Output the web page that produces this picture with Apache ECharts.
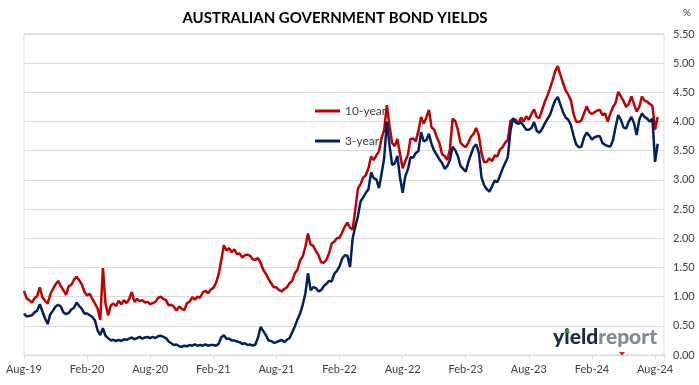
<!DOCTYPE html>
<html>
<head>
<meta charset="utf-8">
<script src="https://cdn.jsdelivr.net/npm/echarts@6/dist/echarts.min.js"></script>
<style>
html,body{margin:0;padding:0;background:#fff;}
#chart{width:699px;height:385px;}
</style>
</head>
<body>
<div id="chart"></div>
<script>
// Tick labels on the x axis (one every 6 months, starting Aug-2019)
const tickLabels = ['Aug-19','Feb-20','Aug-20','Feb-21','Aug-21','Feb-22','Aug-22','Feb-23','Aug-23','Feb-24','Aug-24'];
const seriesNames = ['10-year', '3-year'];

// Yields sampled every quarter-month from Aug-2019 (%)
const yield10 = [
 1.10,0.97,0.94,0.90,0.97,1.01,1.16,0.99,
 0.93,0.88,1.04,1.13,1.21,1.27,1.18,1.11,
 1.03,1.18,1.20,1.29,1.34,1.28,1.21,1.08,
 1.02,1.05,0.96,0.88,0.80,0.60,1.49,0.88,
 0.68,0.85,0.88,0.84,0.93,0.87,0.94,0.89,
 0.96,1.08,0.91,0.96,0.92,0.94,0.90,0.91,
 0.87,0.89,0.91,0.98,1.00,0.96,0.94,0.85,
 0.86,0.83,0.76,0.83,0.79,0.77,0.89,0.91,
 0.99,0.95,1.00,0.98,1.07,1.10,1.06,1.12,
 1.15,1.23,1.38,1.62,1.88,1.79,1.83,1.76,
 1.81,1.73,1.74,1.67,1.71,1.72,1.70,1.64,
 1.63,1.66,1.58,1.46,1.39,1.30,1.23,1.16,
 1.16,1.11,1.09,1.13,1.16,1.23,1.27,1.40,
 1.46,1.62,1.69,1.85,2.08,1.89,1.87,1.78,
 1.71,1.59,1.58,1.63,1.74,1.91,1.94,2.00,
 2.01,2.10,2.20,2.27,2.18,2.15,2.50,2.85,
 2.93,3.04,3.08,3.20,3.40,3.34,3.42,3.49,
 3.72,3.86,4.28,3.93,3.63,3.58,3.70,3.44,
 3.20,3.32,3.43,3.70,3.71,3.66,3.84,4.08,
 3.96,4.07,4.20,3.90,3.86,3.73,3.63,3.44,
 3.41,3.34,3.53,4.05,4.01,3.86,3.64,3.59,
 3.56,3.64,3.74,3.79,3.89,3.76,3.46,3.30,
 3.31,3.37,3.32,3.42,3.40,3.52,3.56,3.64,
 3.68,4.01,4.04,4.03,3.96,4.07,4.00,4.09,
 4.03,4.13,4.21,4.08,4.06,4.19,4.33,4.44,
 4.56,4.70,4.86,4.95,4.80,4.66,4.53,4.46,
 4.36,4.13,4.00,3.99,4.02,4.14,4.26,4.16,
 4.13,4.16,4.19,4.20,4.11,4.14,4.00,4.14,
 4.25,4.32,4.51,4.43,4.35,4.25,4.30,4.43,
 4.30,4.17,4.25,4.43,4.36,4.34,4.30,4.27,
 3.86,4.08
];
const yield3 = [
 0.71,0.66,0.67,0.68,0.73,0.76,0.87,0.75,
 0.63,0.53,0.70,0.76,0.83,0.86,0.83,0.73,
 0.70,0.72,0.78,0.81,0.90,0.84,0.79,0.71,
 0.71,0.68,0.65,0.59,0.42,0.34,0.46,0.33,
 0.29,0.25,0.26,0.24,0.26,0.24,0.27,0.26,
 0.28,0.30,0.27,0.29,0.31,0.28,0.30,0.31,
 0.29,0.31,0.29,0.32,0.33,0.31,0.29,0.23,
 0.20,0.17,0.18,0.15,0.14,0.16,0.15,0.17,
 0.16,0.18,0.16,0.17,0.16,0.18,0.16,0.17,
 0.17,0.16,0.19,0.30,0.34,0.28,0.28,0.25,
 0.25,0.23,0.22,0.19,0.20,0.17,0.18,0.16,
 0.18,0.30,0.48,0.41,0.34,0.25,0.24,0.21,
 0.22,0.24,0.26,0.22,0.26,0.29,0.39,0.49,
 0.61,0.71,0.86,1.05,1.40,1.11,1.16,1.15,
 1.09,1.11,1.18,1.22,1.27,1.26,1.39,1.44,
 1.52,1.65,1.71,1.70,1.51,2.00,2.20,2.38,
 2.63,2.70,2.78,2.84,3.13,3.03,3.01,2.86,
 3.11,3.38,4.00,3.60,3.26,3.28,3.41,3.04,
 2.78,3.06,3.18,3.39,3.38,3.46,3.49,3.82,
 3.66,3.68,3.79,3.61,3.50,3.43,3.35,3.29,
 3.19,3.24,3.34,3.57,3.51,3.41,3.24,3.19,
 3.14,3.31,3.44,3.56,3.61,3.46,3.04,2.91,
 2.84,2.80,2.89,2.99,2.96,3.07,3.19,3.29,
 3.39,3.84,4.06,3.98,3.96,3.99,3.93,3.86,
 3.86,3.89,3.99,3.84,3.81,3.87,3.96,4.04,
 4.11,4.24,4.36,4.42,4.29,4.16,4.07,4.03,
 3.94,3.76,3.61,3.56,3.57,3.73,3.81,3.76,
 3.69,3.73,3.75,3.75,3.63,3.60,3.58,3.57,
 3.68,3.91,4.11,4.03,3.90,3.88,4.00,4.08,
 3.97,3.77,4.03,4.14,4.08,4.05,4.00,4.05,
 3.31,3.62
];

// sample position in months after 1 Aug 2019
const monthOf = (i) => i / 4;
const toPairs = (arr) => arr.map((v, i) => [monthOf(i), v]);

const FONT = 'Lato, "Open Sans", sans-serif';
const chart = echarts.init(document.getElementById('chart'), null, {renderer: 'canvas'});
chart.setOption({
  animation: false,
  backgroundColor: '#ffffff',
  grid: {left: 24, top: 34, right: 35, bottom: 30, show: true, borderColor: '#d9d9d9', borderWidth: 1, containLabel: false},
  legend: {
    orient: 'vertical', left: 310, top: 99,
    itemWidth: 25, itemHeight: 3, itemGap: 16, icon: 'rect',
    textStyle: {fontFamily: FONT, fontSize: 12, color: '#404040', lineHeight: 14},
    data: seriesNames
  },
  xAxis: {
    type: 'value', min: 0, max: 60.85, interval: 6,
    axisLine: {show: true, lineStyle: {color: '#d9d9d9', width: 1}},
    axisTick: {show: true, length: 4, lineStyle: {color: '#d9d9d9'}},
    splitLine: {show: false},
    axisLabel: {
      margin: 9, fontFamily: FONT, fontSize: 11, color: '#404040',
      formatter: (v) => { const k = Math.round(v / 6); return Math.abs(v - 6 * k) < 1e-6 ? (tickLabels[k] || '') : ''; }
    }
  },
  yAxis: {
    type: 'value', position: 'right', min: 0, max: 5.5, interval: 0.5,
    axisLine: {show: false}, axisTick: {show: false},
    splitLine: {show: true, lineStyle: {color: '#d9d9d9', width: 1}},
    axisLabel: {margin: 9, fontFamily: FONT, fontSize: 11, color: '#404040', formatter: (v) => v.toFixed(2)}
  },
  graphic: [
    {type: 'text', x: 335, y: 18, style: {text: 'AUSTRALIAN GOVERNMENT BOND YIELDS', fill: '#000', font: 'bold 15px ' + FONT, align: 'center', verticalAlign: 'middle'}},
    {type: 'text', x: 683, y: 8, style: {text: '%', fill: '#404040', font: '10px ' + FONT}},
    {type: 'text', x: 553, y: 327, style: {
      rich: {a: {fill: '#1c2849', font: '900 21px ' + FONT}, b: {fill: '#7f8a9b', font: '900 21px ' + FONT}},
      text: '{a|yield}{b|report}'
    }},
    {type: 'polygon', shape: {points: [[564, 333], [570, 333], [567, 328]]}, style: {fill: '#2e8b3a'}},
    {type: 'polygon', shape: {points: [[619, 352], [625, 352], [622, 356]]}, style: {fill: '#e0202a'}}
  ],
  series: [
    {name: seriesNames[0], type: 'line', showSymbol: false, symbol: 'none', data: toPairs(yield10),
     lineStyle: {color: '#c00000', width: 2.5}, itemStyle: {color: '#c00000'}, z: 3},
    {name: seriesNames[1], type: 'line', showSymbol: false, symbol: 'none', data: toPairs(yield3),
     lineStyle: {color: '#002060', width: 2.5}, itemStyle: {color: '#002060'}, z: 4}
  ]
});
</script>
</body>
</html>
